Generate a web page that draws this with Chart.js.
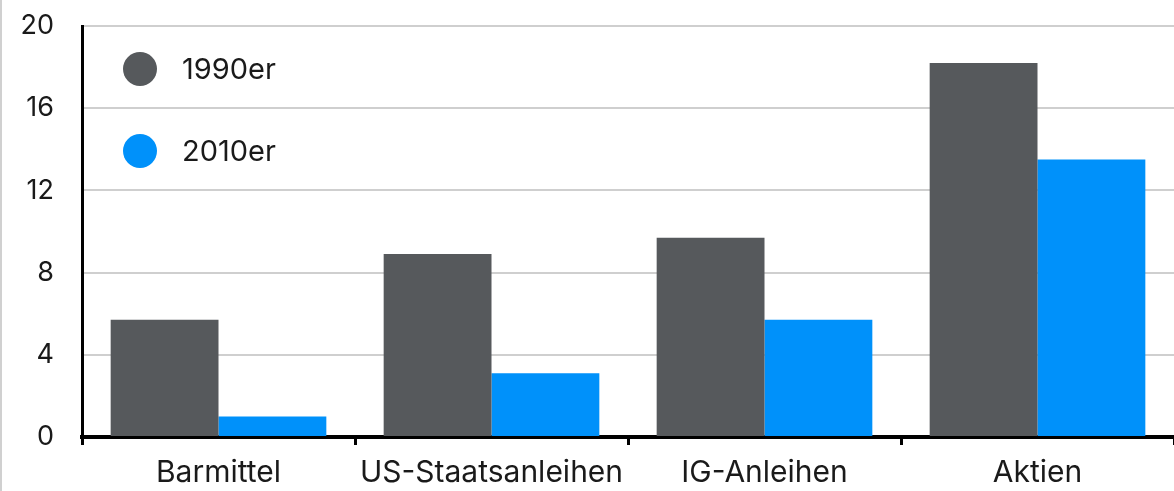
<!DOCTYPE html>
<html>
<head>
<meta charset="utf-8">
<script src="https://cdn.jsdelivr.net/npm/chart.js@4"></script>
<style>
  html, body { margin: 0; padding: 0; background: #fff; }
  #wrap { width: 1174px; height: 491px; position: relative; box-sizing: border-box; border-left: 2px solid #d0d0d0; }
</style>
</head>
<body>
<div id="wrap"><canvas id="myChart" width="1172" height="491"></canvas></div>
<script>
  // Daten
  const categories = ['Barmittel', 'US-Staatsanleihen', 'IG-Anleihen', 'Aktien']
  const series1990 = [5.7, 8.9, 9.7, 18.2]
  const series2010 = [1.0, 3.1, 5.7, 13.5]
  const seriesLabels = ['1990er', '2010er']
  const yTicks = [0, 4, 8, 12, 16, 20]

  const grey = '#56595c'
  const blue = '#0091fa'
  const fontFamily = 'Inter, "Noto Sans", sans-serif'

  // Legende oben links im Diagramm
  const innerLegend = {
    id: 'innerLegend',
    afterDatasetsDraw (chart) {
      const { ctx, chartArea } = chart
      ctx.save()
      chart.data.datasets.forEach((ds, i) => {
        const cx = chartArea.left + 58
        const cy = chartArea.top + 43 + i * 82
        ctx.beginPath()
        ctx.arc(cx, cy, 17, 0, Math.PI * 2)
        ctx.fillStyle = ds.backgroundColor
        ctx.fill()
        ctx.fillStyle = '#1a1a1a'
        ctx.font = '29px ' + fontFamily
        ctx.textBaseline = 'middle'
        ctx.textAlign = 'left'
        ctx.fillText(ds.label, cx + 42, cy + 1)
      })
      ctx.restore()
    }
  }

  const ctx = document.getElementById('myChart')
  // eslint-disable-next-line no-unused-vars
  const myChart = new Chart(ctx, {
    type: 'bar',
    data: {
      labels: categories,
      datasets: [{
        label: seriesLabels[0],
        data: series1990,
        backgroundColor: grey
      }, {
        label: seriesLabels[1],
        data: series2010,
        backgroundColor: blue
      }]
    },
    plugins: [innerLegend],
    options: {
      responsive: false,
      animation: false,
      datasets: {
        bar: { categoryPercentage: 0.79, barPercentage: 1.0 }
      },
      layout: { padding: { top: 26, right: 0, left: 0, bottom: 0 } },
      scales: {
        x: {
          grid: {
            display: true,
            drawOnChartArea: false,
            drawTicks: true,
            tickLength: 8,
            tickWidth: 3,
            color: '#000',
            offset: true
          },
          border: { color: '#000', width: 4 },
          ticks: {
            color: '#1a1a1a',
            font: { family: fontFamily, size: 30 },
            padding: 10,
            maxRotation: 0
          },
          afterFit (scale) {
            scale.height = 54
            scale.paddingLeft = 0
            scale.paddingRight = 0
          }
        },
        y: {
          min: 0,
          max: 20,
          afterBuildTicks (scale) { scale.ticks = yTicks.map(v => ({ value: v })) },
          grid: { color: '#cfcfcf', lineWidth: 2, drawTicks: false },
          border: { color: '#000', width: 3 },
          ticks: {
            color: '#1a1a1a',
            font: { family: fontFamily, size: 27 },
            padding: 28
          },
          afterFit (scale) {
            scale.width = 80
            scale.paddingTop = 0
            scale.paddingBottom = 0
          }
        }
      },
      plugins: {
        legend: { display: false },
        tooltip: { enabled: false }
      }
    }
  })
</script>
</body>
</html>
